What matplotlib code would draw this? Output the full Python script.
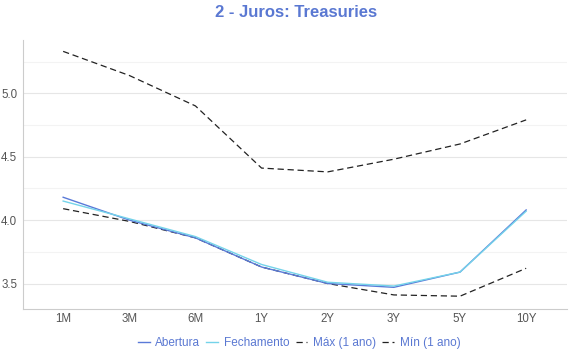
import matplotlib
matplotlib.use("Agg")
import matplotlib.pyplot as plt
from matplotlib.ticker import MultipleLocator

plt.rcParams['font.family'] = ['Liberation Sans', 'DejaVu Sans']

# data
maturities = ["1M", "3M", "6M", "1Y", "2Y", "3Y", "5Y", "10Y"]
abertura = [4.18, 4.00, 3.86, 3.63, 3.50, 3.47, 3.59, 4.08]
fechamento = [4.15, 4.01, 3.87, 3.65, 3.51, 3.48, 3.59, 4.07]
maximo = [5.33, 5.14, 4.90, 4.41, 4.38, 4.48, 4.60, 4.79]
minimo = [4.09, 3.99, 3.86, 3.63, 3.50, 3.41, 3.40, 3.62]

fig = plt.figure(figsize=(5.7, 3.6), dpi=100)
ax = fig.add_axes([0.040, 0.142, 0.955, 0.747])

x = range(len(maturities))
ax.plot(x, abertura, color="#5a7ad8", lw=1.0, label="Abertura", zorder=3)
ax.plot(x, fechamento, color="#74d3ea", lw=1.0, label="Fechamento", zorder=4)
ax.plot(x, maximo, color="#222222", lw=0.9, ls=(0, (5, 3)), label="Máx (1 ano)", zorder=2)
ax.plot(x, minimo, color="#222222", lw=0.9, ls=(0, (5, 3)), label="Mín (1 ano)", zorder=2)

ax.set_xlim(-0.61, 7.62)
ax.set_ylim(3.30, 5.42)
ax.set_xticks(list(x))
ax.set_xticklabels(maturities)
ax.yaxis.set_major_locator(MultipleLocator(0.5))
ax.yaxis.set_minor_locator(MultipleLocator(0.25))
ax.grid(axis="y", which="major", color="#e6e6e6", lw=0.8)
ax.grid(axis="y", which="minor", color="#f3f3f3", lw=0.8)
ax.set_axisbelow(True)
ax.tick_params(axis="both", which="both", length=0, labelsize=8.3, colors="#555555")
ax.tick_params(axis="x", pad=3)
ax.tick_params(axis="y", pad=4)

for s in ["top", "right"]:
    ax.spines[s].set_visible(False)
for s in ["left", "bottom"]:
    ax.spines[s].set_color("#cccccc")

fig.suptitle("2 - Juros: Treasuries", x=0.52, y=0.985, fontsize=12,
             fontweight="bold", color="#5a78d2")

leg = fig.legend(loc="lower center", bbox_to_anchor=(0.525, 0.0), ncol=4,
                 frameon=False, fontsize=8.5, handlelength=1.0,
                 handletextpad=0.5, columnspacing=0.5)
for t in leg.get_texts():
    t.set_color("#5a78d2")

fig.savefig("out.png", dpi=100)
